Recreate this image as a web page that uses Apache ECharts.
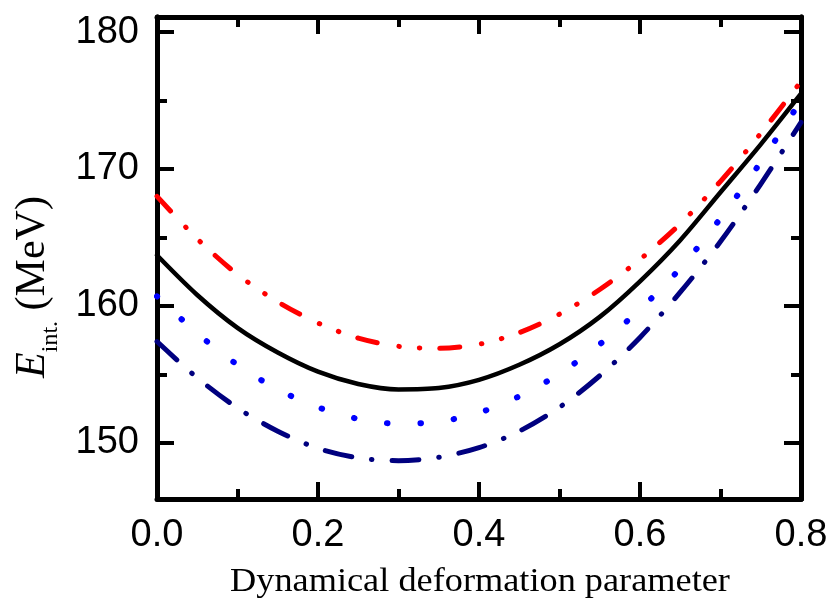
<!DOCTYPE html>
<html>
<head>
<meta charset="utf-8">
<script src="https://cdn.jsdelivr.net/npm/echarts@6/dist/echarts.min.js"></script>
<style>
  html, body { margin: 0; padding: 0; background: #fff; }
  #chart { width: 833px; height: 598px; }
</style>
</head>
<body>
<div id="chart"></div>
<script>
// ---- data ----
const xValues     = [0.00, 0.05, 0.10, 0.15, 0.20, 0.25, 0.30, 0.35, 0.40,
                     0.45, 0.50, 0.55, 0.60, 0.65, 0.70, 0.75, 0.80];
const redValues   = [168.0, 164.9, 162.3, 160.3, 158.75, 157.65, 157.05, 156.9, 157.2,
                     158.05, 159.4, 161.2, 163.4, 166.0, 169.1, 172.6, 176.4];
const blackValues = [163.7, 160.8, 158.4, 156.6, 155.2, 154.3, 153.9, 154.0, 154.6,
                     155.7, 157.2, 159.2, 161.8, 164.8, 168.3, 171.8, 175.5];
const blueValues  = [160.7, 158.0, 155.7, 153.9, 152.6, 151.75, 151.4, 151.55, 152.2,
                     153.4, 155.05, 157.2, 159.75, 162.75, 166.4, 170.5, 175.0];
const navyValues  = [157.4, 154.75, 152.55, 150.85, 149.6, 148.9, 148.7, 148.95, 149.65,
                     150.85, 152.6, 154.9, 157.7, 161.0, 164.7, 168.9, 173.4];
const yMajorTicks = [150, 160, 170, 180];
const yMinorTicks = [155, 165, 175];
const xTitle = 'Dynamical deformation parameter';

const pairs = vals => xValues.map((x, i) => [x, vals[i]]);

const yMin = 145.9, yMax = 181.1;
const AX = { color: '#000', width: 5 };

function yAx(position, ticks, len, labels) {
  return {
    type: 'value', position: position, min: yMin, max: yMax, offset: 0,
    axisLine: { show: true, lineStyle: AX },
    axisTick: { show: true, inside: true, length: len, customValues: ticks,
                lineStyle: { color: '#000', width: 4 } },
    axisLabel: { show: labels, customValues: ticks, margin: 18, color: '#000',
                 fontFamily: 'Liberation Sans', fontSize: 38,
                 formatter: v => String(Math.round(v)) },
    splitLine: { show: false }
  };
}
function xAx(position, labels) {
  return {
    type: 'value', position: position, min: 0, max: 0.8, interval: 0.2,
    axisLine: { show: true, lineStyle: AX },
    axisTick: { show: true, inside: true, length: 17, lineStyle: { color: '#000', width: 4 } },
    minorTick: { show: true, splitNumber: 2, length: 10, lineStyle: { color: '#000', width: 4 } },
    axisLabel: { show: labels, margin: 18, color: '#000', fontFamily: 'Liberation Sans',
                 fontSize: 38, formatter: v => v.toFixed(1) },
    splitLine: { show: false },
    minorSplitLine: { show: false }
  };
}

function series(name, vals, color, type, width) {
  return {
    name: name, type: 'line', data: pairs(vals), xAxisIndex: 0, yAxisIndex: 0,
    smooth: 0.3, showSymbol: false, symbol: 'none',
    lineStyle: { color: color, width: width, type: type, cap: 'round', join: 'round' }
  };
}

const chart = echarts.init(document.getElementById('chart'), null, { renderer: 'canvas' });
chart.setOption({
  animation: false,
  backgroundColor: '#fff',
  grid: { left: 157, right: 32, top: 17, bottom: 99, containLabel: false },
  xAxis: [xAx('bottom', true), xAx('top', false)],
  yAxis: [
    yAx('left', yMajorTicks, 17, true),
    yAx('left', yMinorTicks, 10, false),
    yAx('right', yMajorTicks, 17, false),
    yAx('right', yMinorTicks, 10, false)
  ],
  graphic: [
    {
      type: 'text', x: 33, y: 287, rotation: Math.PI / 2,
      style: {
        text: '{e|E}{s|int.}{n| (MeV)}',
        align: 'center', verticalAlign: 'middle',
        rich: {
          e: { fontFamily: 'Liberation Serif', fontStyle: 'italic', fontSize: 42, fill: '#000', verticalAlign: 'middle', lineHeight: 60 },
          s: { fontFamily: 'Liberation Serif', fontSize: 24, fill: '#000', verticalAlign: 'bottom', lineHeight: 24 },
          n: { fontFamily: 'Liberation Serif', fontSize: 42, fill: '#000', verticalAlign: 'middle', lineHeight: 60 }
        }
      }
    },
    {
      type: 'text', x: 480, y: 582, scaleX: 1.1,
      style: {
        text: xTitle, align: 'center', verticalAlign: 'middle',
        font: '33px "Liberation Serif"', fill: '#000'
      }
    }
  ],
  series: [
    series('red', redValues, '#ff0000', [20, 22, 0.5, 20, 0.5, 20], 5),
    series('black', blackValues, '#000000', 'solid', 4.5),
    series('blue', blueValues, '#0000ff', [0.5, 33], 6),
    series('navy', navyValues, '#00007f', [27, 20, 0.5, 20], 5)
  ]
});
</script>
</body>
</html>
